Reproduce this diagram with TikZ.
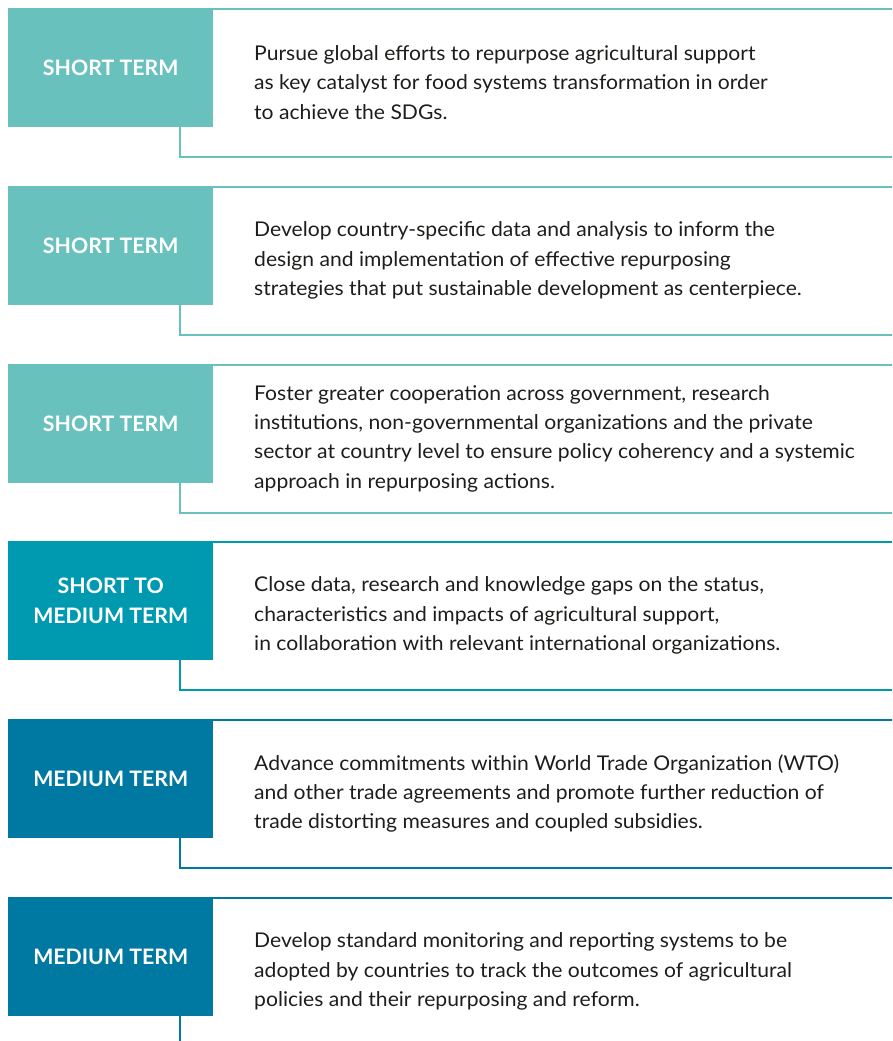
\documentclass[tikz,border=0pt]{standalone}
\usepackage{fontspec}
\setmainfont{Lato}
\newfontfamily\bodyfont{Lato}[FakeStretch=1.04]
\definecolor{tealA}{HTML}{68C1BD}
\definecolor{tealB}{HTML}{009AB0}
\definecolor{blueC}{HTML}{0079A2}
\definecolor{textdark}{HTML}{1D1D1B}
\tikzset{
  termbox/.style={fill=#1, minimum width=205pt, minimum height=119pt, inner sep=0pt,
    anchor=north west, text=white, font=\bfseries\fontsize{21.3}{30}\selectfont, align=center},
  descr/.style={anchor=west, text=textdark, font=\bodyfont\fontsize{20.3}{29.3}\selectfont,
    align=left, inner sep=0pt},
  frameline/.style={draw=#1, line width=2.2pt},
}
\newcommand\termrow[5]{%
  \draw[frameline=#3] (900,#2+1) -- (180,#2+1) -- (180,#2+149) -- (900,#2+149);
  \node[termbox=#3] (box#1) at (8,#2) {#4};
  \node[descr] (txt#1) at (254,#2+74.5) {#5};
}
\begin{document}
\begin{tikzpicture}[x=1pt,y=-1pt]
\useasboundingbox (0,0) rectangle (892,1041);
\clip (0,0) rectangle (892,1041);
\termrow{1}{8}{tealA}{SHORT TERM}{Pursue global efforts to repurpose agricultural support\\as key catalyst for food systems transformation in order\\to achieve the SDGs.}
\termrow{2}{186}{tealA}{SHORT TERM}{Develop country-specific data and analysis to inform the\\design and implementation of effective repurposing\\strategies that put sustainable development as centerpiece.}
\termrow{3}{364}{tealA}{SHORT TERM}{Foster greater cooperation across government, research\\institutions, non-governmental organizations and the private\\sector at country level to ensure policy coherency and a systemic\\approach in repurposing actions.}
\termrow{4}{541}{tealB}{SHORT TO\\MEDIUM TERM}{Close data, research and knowledge gaps on the status,\\characteristics and impacts of agricultural support,\\in collaboration with relevant international organizations.}
\termrow{5}{719}{blueC}{MEDIUM TERM}{Advance commitments within World Trade Organization (WTO)\\and other trade agreements and promote further reduction of\\trade distorting measures and coupled subsidies.}
\draw[frameline=blueC] (900,898) -- (180,898) -- (180,1050);
\node[termbox=blueC] (box6) at (8,897) {MEDIUM TERM};
\node[descr] (txt6) at (254,971.5) {Develop standard monitoring and reporting systems to be\\adopted by countries to track the outcomes of agricultural\\policies and their repurposing and reform.};
\end{tikzpicture}
\end{document}
